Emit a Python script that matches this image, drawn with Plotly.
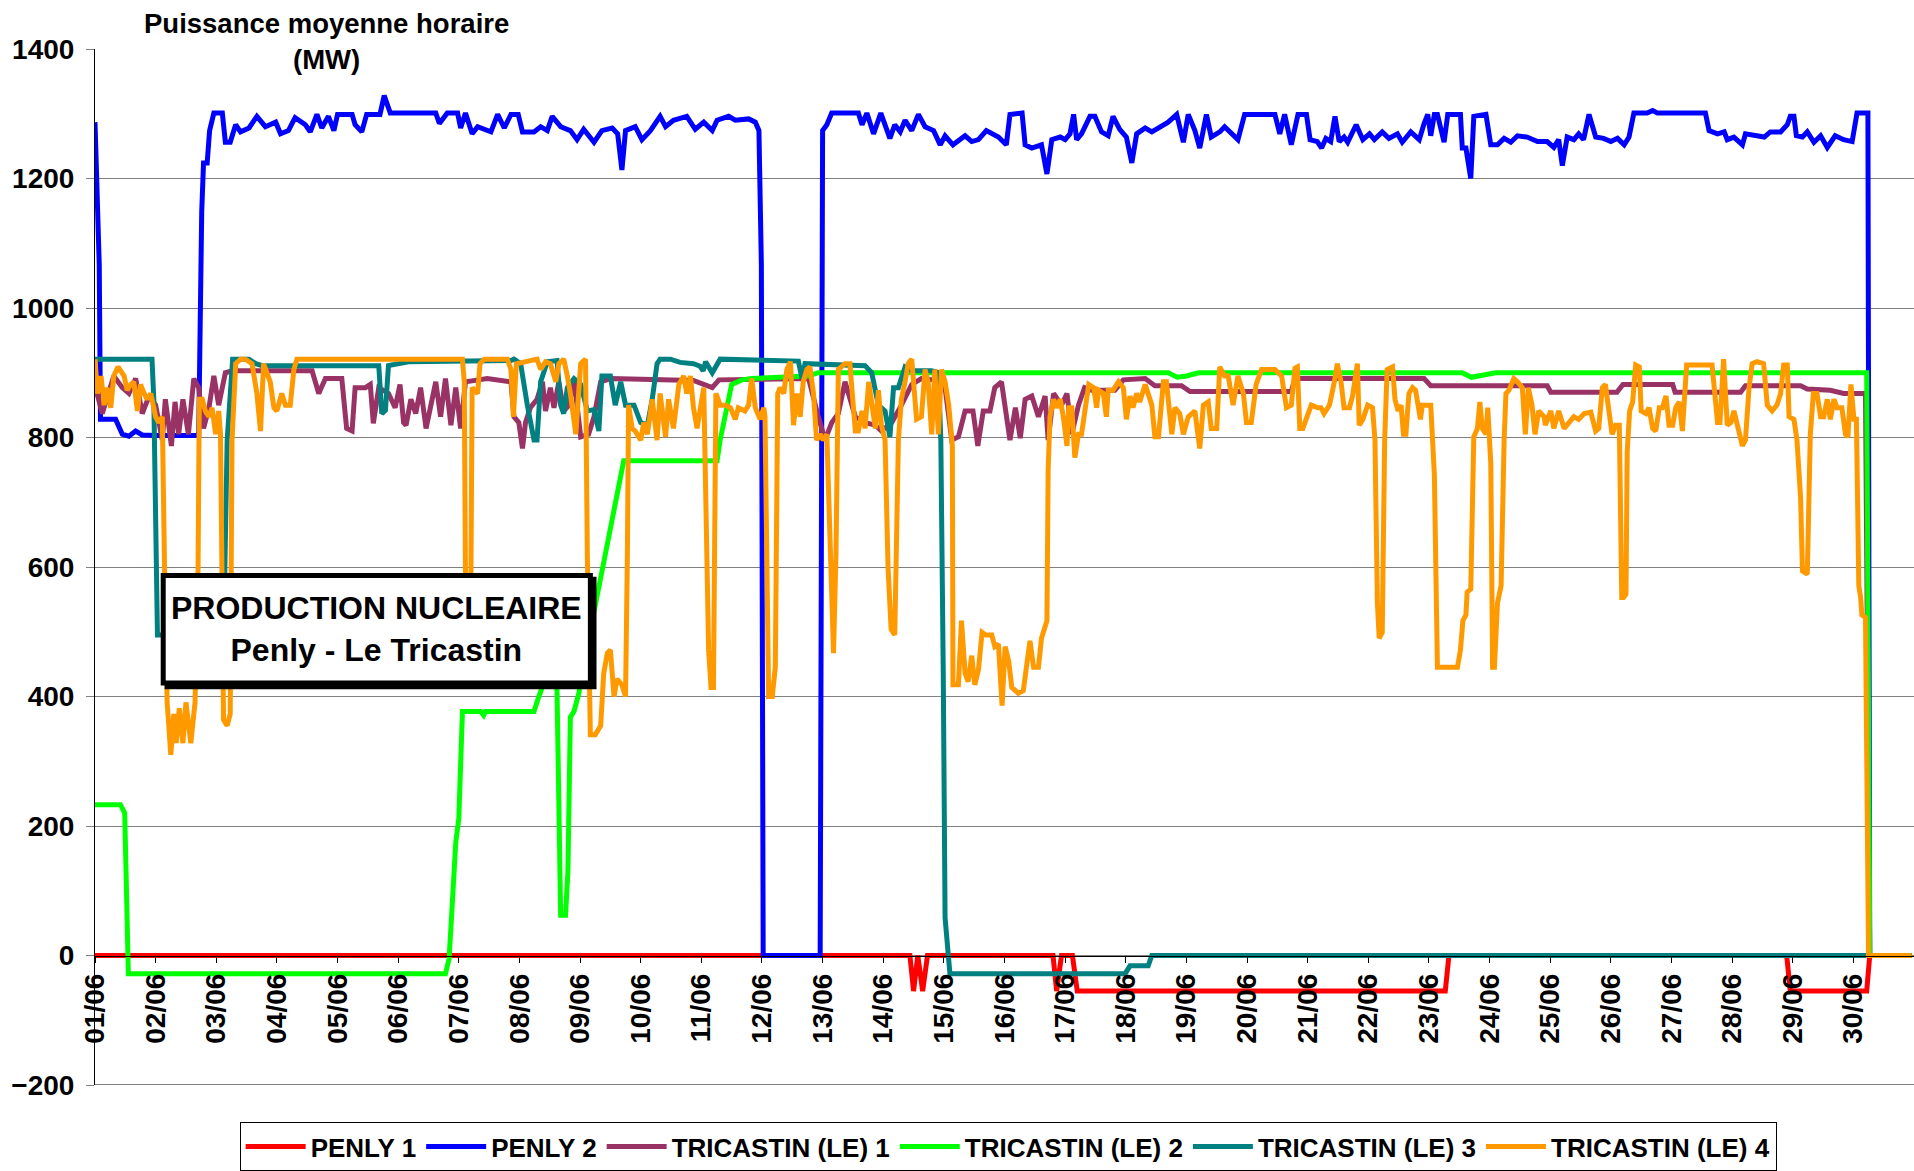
import plotly.graph_objects as go

# ---------------- data (day index from 01/06 00h, MW) ----------------
DAY_LABELS = ["01/06", "02/06", "03/06", "04/06", "05/06", "06/06", "07/06", "08/06", "09/06", "10/06",
              "11/06", "12/06", "13/06", "14/06", "15/06", "16/06", "17/06", "18/06", "19/06", "20/06",
              "21/06", "22/06", "23/06", "24/06", "25/06", "26/06", "27/06", "28/06", "29/06", "30/06"]
DAY_TICKS = list(range(30))

Y_TICKS = [-200, 0, 200, 400, 600, 800, 1000, 1200, 1400]

PENLY1 = [(0.00, 0), (13.44, 0), (13.50, -55), (13.57, 0), (13.65, -55), (13.73, 0), (15.80, 0), (15.86, -55),
          (15.94, 0), (16.12, 0), (16.20, -55), (22.27, -55), (22.33, 0), (27.90, 0), (27.96, -55),
          (29.22, -55), (29.27, 0), (29.96, 0)]

PENLY2 = [(0.00, 1287), (0.07, 1067), (0.09, 828), (0.34, 828), (0.45, 805), (0.56, 802), (0.67, 810), (0.78, 804),
          (1.00, 803), (1.71, 803), (1.76, 1148), (1.79, 1224), (1.85, 1224), (1.89, 1274), (1.96, 1301), (2.10, 1301),
          (2.15, 1256), (2.23, 1256), (2.32, 1283), (2.40, 1272), (2.54, 1278), (2.67, 1296), (2.81, 1280), (2.98, 1287),
          (3.06, 1269), (3.19, 1274), (3.30, 1294), (3.47, 1283), (3.55, 1272), (3.66, 1299), (3.74, 1278), (3.85, 1296),
          (3.94, 1274), (4.00, 1299), (4.24, 1299), (4.29, 1283), (4.40, 1272), (4.48, 1299), (4.70, 1299), (4.77, 1328),
          (4.87, 1301), (5.62, 1301), (5.68, 1285), (5.81, 1301), (5.98, 1301), (6.03, 1278), (6.11, 1301), (6.22, 1269),
          (6.31, 1280), (6.42, 1275), (6.53, 1272), (6.64, 1299), (6.75, 1278), (6.86, 1299), (6.98, 1299), (7.05, 1272),
          (7.24, 1272), (7.35, 1280), (7.46, 1274), (7.54, 1296), (7.68, 1280), (7.84, 1274), (7.95, 1260), (8.06, 1276),
          (8.23, 1256), (8.36, 1274), (8.53, 1278), (8.62, 1269), (8.69, 1213), (8.75, 1274), (8.91, 1280), (9.02, 1260),
          (9.16, 1274), (9.32, 1296), (9.41, 1280), (9.54, 1290), (9.76, 1296), (9.90, 1276), (10.04, 1287), (10.18, 1274),
          (10.26, 1290), (10.45, 1296), (10.56, 1290), (10.78, 1292), (10.89, 1287), (10.95, 1274), (10.99, 1067),
          (11.02, 0), (11.96, 0), (12.00, 1274), (12.07, 1283), (12.15, 1301), (12.59, 1301), (12.65, 1283), (12.73, 1301),
          (12.84, 1269), (12.96, 1301), (13.11, 1262), (13.19, 1283), (13.28, 1272), (13.36, 1290), (13.47, 1274),
          (13.58, 1299), (13.69, 1280), (13.83, 1274), (13.94, 1252), (14.02, 1266), (14.15, 1252), (14.26, 1260),
          (14.35, 1266), (14.46, 1257), (14.57, 1260), (14.70, 1274), (14.90, 1264), (15.03, 1252), (15.09, 1299),
          (15.29, 1301), (15.34, 1252), (15.45, 1247), (15.61, 1252), (15.70, 1207), (15.78, 1260), (15.92, 1264),
          (16.00, 1260), (16.08, 1269), (16.14, 1299), (16.19, 1260), (16.27, 1269), (16.41, 1296), (16.49, 1296),
          (16.60, 1272), (16.71, 1266), (16.79, 1296), (16.90, 1276), (17.01, 1264), (17.10, 1224), (17.18, 1269),
          (17.32, 1278), (17.43, 1272), (17.56, 1280), (17.70, 1287), (17.84, 1299), (17.95, 1256), (18.03, 1299),
          (18.14, 1274), (18.22, 1247), (18.33, 1299), (18.41, 1264), (18.55, 1272), (18.63, 1280), (18.72, 1272),
          (18.85, 1260), (18.96, 1299), (19.46, 1299), (19.54, 1269), (19.62, 1299), (19.73, 1252), (19.84, 1299),
          (19.98, 1299), (20.04, 1260), (20.16, 1257), (20.23, 1247), (20.30, 1262), (20.38, 1257), (20.45, 1296),
          (20.52, 1257), (20.60, 1264), (20.66, 1256), (20.80, 1283), (20.91, 1260), (21.02, 1269), (21.10, 1260),
          (21.23, 1272), (21.34, 1262), (21.48, 1269), (21.56, 1256), (21.70, 1272), (21.84, 1260), (21.92, 1285),
          (21.98, 1299), (22.03, 1266), (22.09, 1299), (22.14, 1299), (22.25, 1256), (22.31, 1299), (22.52, 1299),
          (22.55, 1247), (22.61, 1247), (22.69, 1200), (22.74, 1296), (22.94, 1299), (23.02, 1252), (23.13, 1252),
          (23.24, 1262), (23.35, 1256), (23.46, 1266), (23.62, 1264), (23.79, 1257), (23.95, 1257), (24.06, 1248),
          (24.14, 1260), (24.20, 1220), (24.28, 1264), (24.39, 1260), (24.47, 1269), (24.55, 1260), (24.64, 1299),
          (24.75, 1264), (24.88, 1262), (25.00, 1257), (25.11, 1262), (25.22, 1252), (25.30, 1264), (25.38, 1301),
          (25.60, 1301), (25.69, 1305), (25.77, 1301), (26.56, 1301), (26.62, 1274), (26.76, 1269), (26.87, 1272),
          (26.92, 1260), (27.03, 1264), (27.17, 1252), (27.22, 1269), (27.39, 1266), (27.53, 1264), (27.63, 1272),
          (27.80, 1272), (27.91, 1283), (27.96, 1296), (28.02, 1296), (28.06, 1266), (28.16, 1264), (28.24, 1272),
          (28.35, 1256), (28.46, 1266), (28.57, 1248), (28.70, 1266), (28.84, 1260), (28.98, 1257), (29.06, 1301),
          (29.24, 1301), (29.27, 0), (29.96, 0)]

TRICASTIN1 = [(0.00, 880), (0.12, 837), (0.31, 895), (0.45, 877), (0.56, 868), (0.67, 891), (0.78, 837), (0.89, 864),
              (1.00, 850), (1.11, 796), (1.16, 859), (1.26, 787), (1.32, 855), (1.38, 805), (1.45, 859), (1.54, 805),
              (1.63, 891), (1.71, 877), (1.79, 814), (1.88, 846), (1.96, 895), (2.04, 850), (2.15, 900), (2.26, 903),
              (3.58, 903), (3.69, 868), (3.80, 891), (4.07, 891), (4.15, 814), (4.24, 810), (4.29, 877), (4.46, 877),
              (4.54, 882), (4.59, 822), (4.68, 877), (4.84, 868), (4.95, 846), (5.03, 882), (5.09, 823), (5.13, 819),
              (5.21, 859), (5.29, 837), (5.37, 877), (5.46, 814), (5.54, 850), (5.62, 886), (5.70, 832), (5.78, 891),
              (5.87, 819), (5.95, 877), (6.03, 814), (6.11, 886), (6.47, 891), (6.86, 886), (6.91, 832), (6.99, 823),
              (7.05, 783), (7.10, 823), (7.18, 846), (7.29, 859), (7.38, 886), (7.43, 841), (7.51, 877), (7.57, 846),
              (7.65, 886), (7.73, 841), (7.82, 850), (7.90, 891), (8.01, 801), (8.14, 805), (8.23, 832), (8.34, 886),
              (8.50, 891), (9.87, 888), (10.04, 882), (10.18, 877), (10.29, 889), (11.77, 891), (11.93, 832),
              (12.04, 796), (12.15, 823), (12.26, 837), (12.37, 886), (12.54, 832), (12.70, 823), (12.87, 819),
              (12.97, 810), (13.14, 823), (13.30, 850), (13.47, 882), (13.63, 891), (13.91, 888), (14.02, 877),
              (14.13, 796), (14.24, 801), (14.35, 841), (14.48, 841), (14.56, 787), (14.65, 841), (14.76, 841),
              (14.84, 877), (14.95, 886), (15.09, 796), (15.18, 846), (15.26, 799), (15.34, 859), (15.45, 864),
              (15.56, 832), (15.67, 864), (15.72, 796), (15.81, 868), (15.94, 850), (16.03, 868), (16.11, 805),
              (16.22, 850), (16.32, 877), (16.44, 873), (16.82, 873), (16.96, 889), (17.32, 891), (17.48, 880),
              (17.92, 880), (18.06, 871), (19.73, 871), (19.79, 891), (21.92, 891), (22.03, 880), (23.95, 880),
              (24.01, 870), (25.10, 870), (25.20, 882), (26.02, 882), (26.06, 870), (27.14, 870), (27.22, 880),
              (28.13, 880), (28.24, 875), (28.62, 873), (28.84, 868), (29.20, 868), (29.27, 0), (29.96, 0)]

TRICASTIN2 = [(0.00, 233), (0.42, 233), (0.49, 220), (0.55, -28), (5.78, -28), (5.84, -5), (5.89, 76), (5.95, 175),
              (6.00, 211), (6.06, 377), (6.36, 377), (6.41, 371), (6.44, 377), (7.24, 377), (7.32, 400), (7.42, 425),
              (7.58, 430), (7.62, 409), (7.68, 62), (7.76, 62), (7.80, 130), (7.84, 368), (7.90, 377), (7.98, 405),
              (8.06, 450), (8.72, 764), (10.26, 764), (10.31, 796), (10.50, 882), (10.67, 889), (10.83, 891),
              (11.77, 895), (11.93, 900), (17.70, 900), (17.85, 893), (18.00, 895), (18.20, 900), (22.55, 900),
              (22.70, 893), (22.95, 897), (23.10, 900), (29.22, 900), (29.27, 0), (29.96, 0)]

TRICASTIN3 = [(0.00, 921), (0.94, 921), (0.97, 859), (1.00, 598), (1.03, 495), (1.10, 495), (2.08, 495), (2.14, 589),
              (2.18, 796), (2.27, 921), (2.54, 921), (2.65, 914), (2.76, 911), (4.68, 911), (4.73, 837), (4.79, 842),
              (4.84, 911), (5.17, 917), (6.86, 919), (6.91, 921), (7.02, 914), (7.13, 850), (7.24, 796), (7.29, 796),
              (7.35, 886), (7.46, 917), (7.62, 919), (7.68, 850), (7.73, 837), (7.79, 877), (7.90, 891), (8.01, 882),
              (8.12, 841), (8.23, 843), (8.31, 810), (8.36, 895), (8.50, 895), (8.58, 850), (8.67, 886), (8.75, 850),
              (8.89, 850), (9.00, 823), (9.11, 819), (9.19, 859), (9.27, 914), (9.32, 921), (9.49, 921), (9.65, 916),
              (9.87, 914), (9.98, 910), (10.03, 903), (10.07, 917), (10.18, 900), (10.31, 921), (11.60, 918),
              (11.66, 891), (11.71, 914), (12.70, 911), (12.81, 900), (12.92, 850), (13.03, 841), (13.11, 801),
              (13.17, 877), (13.25, 877), (13.30, 895), (13.36, 909), (13.47, 903), (13.80, 903), (13.91, 900),
              (13.95, 796), (13.99, 436), (14.02, 58), (14.10, -28), (16.99, -28), (17.07, -16), (17.37, -16),
              (17.43, 0), (29.96, 0)]

TRICASTIN4 = [(0.00, 921), (0.04, 868), (0.10, 895), (0.15, 850), (0.20, 877), (0.26, 846), (0.31, 895), (0.38, 909),
              (0.48, 895), (0.53, 873), (0.59, 882), (0.64, 886), (0.70, 841), (0.75, 882), (0.81, 868), (0.86, 859),
              (0.92, 868), (1.00, 832), (1.05, 823), (1.11, 832), (1.15, 580), (1.19, 391), (1.25, 310), (1.30, 373),
              (1.34, 328), (1.39, 382), (1.45, 328), (1.50, 391), (1.58, 328), (1.65, 391), (1.70, 600), (1.72, 859),
              (1.77, 859), (1.82, 841), (1.88, 832), (1.93, 846), (1.99, 805), (2.04, 841), (2.07, 805), (2.10, 616),
              (2.12, 364), (2.18, 355), (2.23, 373), (2.26, 796), (2.32, 914), (2.40, 921), (2.48, 921), (2.59, 914),
              (2.67, 868), (2.73, 810), (2.78, 914), (2.89, 886), (2.95, 846), (3.00, 841), (3.08, 868), (3.14, 850),
              (3.22, 850), (3.28, 905), (3.33, 921), (6.06, 921), (6.09, 886), (6.11, 589), (6.15, 560), (6.20, 589),
              (6.22, 877), (6.31, 868), (6.35, 914), (6.42, 921), (6.80, 921), (6.86, 905), (6.90, 832), (6.95, 914),
              (7.29, 921), (7.35, 905), (7.43, 917), (7.51, 914), (7.60, 886), (7.65, 914), (7.73, 921), (7.79, 895),
              (7.84, 868), (7.93, 805), (8.01, 914), (8.09, 921), (8.12, 616), (8.17, 341), (8.25, 341), (8.34, 355),
              (8.39, 436), (8.45, 467), (8.50, 472), (8.56, 400), (8.61, 427), (8.69, 418), (8.75, 400), (8.78, 616),
              (8.80, 850), (8.86, 814), (8.91, 810), (9.00, 796), (9.05, 823), (9.11, 805), (9.19, 859), (9.27, 796),
              (9.32, 868), (9.41, 801), (9.46, 859), (9.54, 814), (9.63, 882), (9.71, 895), (9.76, 868), (9.82, 895),
              (9.87, 846), (9.93, 814), (9.98, 846), (10.04, 877), (10.12, 472), (10.16, 414), (10.20, 414),
              (10.24, 868), (10.31, 850), (10.40, 850), (10.48, 846), (10.56, 828), (10.61, 846), (10.72, 841),
              (10.78, 850), (10.83, 891), (10.89, 846), (10.97, 828), (11.03, 846), (11.05, 832), (11.11, 400),
              (11.17, 400), (11.22, 445), (11.26, 868), (11.30, 877), (11.36, 868), (11.41, 905), (11.47, 917),
              (11.52, 819), (11.58, 868), (11.63, 832), (11.68, 886), (11.74, 905), (11.79, 909), (11.85, 868),
              (11.90, 796), (11.96, 805), (12.01, 796), (12.07, 805), (12.12, 616), (12.18, 467), (12.22, 616),
              (12.26, 905), (12.37, 914), (12.45, 914), (12.54, 810), (12.59, 810), (12.65, 841), (12.70, 814),
              (12.76, 886), (12.81, 850), (12.87, 814), (12.92, 873), (12.97, 819), (13.03, 796), (13.08, 598),
              (13.13, 504), (13.19, 495), (13.25, 796), (13.30, 859), (13.36, 886), (13.41, 914), (13.47, 921),
              (13.55, 828), (13.63, 832), (13.69, 905), (13.74, 886), (13.80, 805), (13.85, 905), (13.91, 805),
              (13.96, 905), (14.02, 886), (14.08, 850), (14.14, 787), (14.15, 418), (14.24, 418), (14.29, 517),
              (14.35, 436), (14.40, 423), (14.46, 463), (14.51, 418), (14.57, 441), (14.63, 499), (14.69, 495),
              (14.79, 495), (14.84, 477), (14.90, 481), (14.96, 386), (15.01, 477), (15.07, 454), (15.12, 414),
              (15.23, 405), (15.31, 409), (15.37, 454), (15.42, 486), (15.48, 445), (15.56, 445), (15.61, 490),
              (15.70, 517), (15.72, 751), (15.75, 832), (15.81, 859), (15.86, 846), (15.92, 859), (15.97, 832),
              (16.03, 787), (16.06, 846), (16.11, 846), (16.16, 769), (16.22, 805), (16.27, 805), (16.34, 850),
              (16.39, 882), (16.47, 877), (16.52, 846), (16.55, 873), (16.63, 868), (16.68, 832), (16.71, 873),
              (16.79, 873), (16.88, 886), (16.96, 877), (17.01, 828), (17.07, 864), (17.12, 846), (17.18, 868),
              (17.23, 855), (17.32, 882), (17.43, 850), (17.48, 801), (17.54, 801), (17.62, 886), (17.67, 886),
              (17.76, 805), (17.81, 846), (17.89, 837), (17.95, 805), (18.03, 832), (18.14, 841), (18.22, 783),
              (18.28, 850), (18.36, 855), (18.41, 814), (18.50, 814), (18.55, 909), (18.63, 895), (18.69, 895),
              (18.77, 850), (18.85, 895), (18.94, 868), (18.99, 823), (19.07, 823), (19.15, 882), (19.24, 905),
              (19.46, 905), (19.57, 895), (19.65, 846), (19.73, 850), (19.79, 907), (19.83, 909), (19.87, 814),
              (19.92, 814), (19.98, 832), (20.06, 850), (20.17, 846), (20.22, 846), (20.27, 837), (20.36, 850),
              (20.44, 886), (20.49, 914), (20.55, 886), (20.60, 846), (20.69, 846), (20.74, 864), (20.82, 914),
              (20.85, 819), (20.91, 828), (20.99, 850), (21.07, 846), (21.11, 796), (21.15, 544), (21.18, 490),
              (21.23, 499), (21.27, 796), (21.31, 905), (21.40, 909), (21.44, 859), (21.49, 841), (21.54, 850),
              (21.58, 805), (21.62, 805), (21.67, 868), (21.73, 877), (21.78, 873), (21.86, 828), (21.89, 850),
              (22.03, 850), (22.09, 742), (22.14, 445), (22.47, 445), (22.52, 472), (22.56, 517), (22.61, 526),
              (22.63, 561), (22.69, 566), (22.72, 715), (22.74, 801), (22.80, 814), (22.84, 855), (22.88, 814),
              (22.94, 805), (22.97, 846), (23.02, 760), (23.05, 445), (23.08, 445), (23.13, 544), (23.19, 571),
              (23.24, 796), (23.27, 868), (23.32, 873), (23.40, 891), (23.46, 886), (23.54, 877), (23.59, 805),
              (23.64, 877), (23.70, 850), (23.75, 805), (23.81, 841), (23.90, 832), (23.92, 819), (24.01, 841),
              (24.06, 814), (24.14, 841), (24.23, 814), (24.31, 823), (24.39, 832), (24.47, 828), (24.56, 837),
              (24.67, 839), (24.75, 810), (24.80, 814), (24.86, 877), (24.91, 882), (24.97, 841), (25.02, 805),
              (25.08, 819), (25.14, 819), (25.18, 553), (25.21, 553), (25.25, 558), (25.27, 778), (25.31, 841),
              (25.36, 855), (25.41, 912), (25.47, 909), (25.50, 841), (25.58, 837), (25.63, 846), (25.69, 814),
              (25.74, 810), (25.80, 846), (25.85, 846), (25.91, 864), (25.96, 819), (26.02, 819), (26.07, 846),
              (26.13, 855), (26.18, 810), (26.25, 912), (26.67, 912), (26.76, 823), (26.80, 823), (26.86, 921),
              (26.92, 819), (26.98, 823), (27.03, 841), (27.09, 814), (27.17, 787), (27.22, 796), (27.28, 877),
              (27.33, 914), (27.41, 917), (27.52, 914), (27.58, 850), (27.66, 841), (27.74, 850), (27.80, 868),
              (27.85, 912), (27.91, 912), (27.94, 832), (28.02, 828), (28.07, 796), (28.13, 706), (28.16, 594),
              (28.24, 589), (28.29, 805), (28.34, 868), (28.40, 868), (28.46, 832), (28.51, 832), (28.57, 859),
              (28.62, 828), (28.68, 859), (28.73, 846), (28.81, 846), (28.87, 805), (28.91, 801), (28.96, 882),
              (29.01, 828), (29.05, 828), (29.09, 571), (29.12, 553), (29.14, 526), (29.20, 522), (29.25, 0),
              (29.96, 0)]

SERIES = [
    ("PENLY 1", PENLY1, "#FF0000"),
    ("PENLY 2", PENLY2, "#0000FF"),
    ("TRICASTIN (LE) 1", TRICASTIN1, "#993366"),
    ("TRICASTIN (LE) 2", TRICASTIN2, "#00FF00"),
    ("TRICASTIN (LE) 3", TRICASTIN3, "#008080"),
    ("TRICASTIN (LE) 4", TRICASTIN4, "#FF9900"),
]

FONT = "Arial, 'Liberation Sans', sans-serif"

fig = go.Figure()
for name, pts, color in SERIES:
    xs = [p[0] for p in pts]
    ys = [p[1] for p in pts]
    fig.add_trace(go.Scatter(x=xs, y=ys, mode="lines", name=name,
                             line=dict(color=color, width=5)))

fig.update_layout(
    width=1914, height=1171,
    margin=dict(l=95, r=0, t=49, b=82, pad=0),
    plot_bgcolor="white", paper_bgcolor="white",
    showlegend=True,
    legend=dict(orientation="h", x=0.502, xanchor="center", y=-0.036, yanchor="top",
                font=dict(family=FONT, size=26, color="black", weight="bold"),
                bordercolor="black", borderwidth=1, bgcolor="white",
                itemwidth=60, tracegroupgap=0),
    xaxis=dict(range=[0, 30], tickmode="array", tickvals=DAY_TICKS, ticktext=DAY_LABELS,
               tickangle=-90, anchor="free", position=200 / 1600,
               showline=True, linecolor="black", linewidth=1,
               ticks="outside", ticklen=6, tickcolor="black",
               showgrid=False, zeroline=False,
               tickfont=dict(family=FONT, size=28, color="black", weight="bold")),
    yaxis=dict(range=[-200, 1400], tickmode="array", tickvals=Y_TICKS,
               showline=True, linecolor="black", linewidth=1,
               ticks="outside", ticklen=8, tickcolor="#808080",
               showgrid=True, gridcolor="#808080", gridwidth=1, zeroline=False,
               ticklabelstandoff=6,
               tickfont=dict(family=FONT, size=28, color="black", weight="bold")),
)

# bottom border of plot area
fig.add_shape(type="line", xref="paper", yref="y", x0=0, x1=1, y0=-200, y1=-200,
              line=dict(color="black", width=1))

# title box
fig.add_annotation(text="Puissance moyenne horaire<br>(MW)", xref="paper", yref="paper",
                   x=0.127, y=1.007, xanchor="center", yanchor="middle", showarrow=False,
                   bgcolor="white", borderpad=4,
                   font=dict(family=FONT, size=27.5, color="black", weight="bold"))

# framed label box with shadow
fig.add_shape(type="rect", xref="x", yref="y", x0=1.19, x1=8.23, y0=415, y1=581,
              fillcolor="black", line=dict(color="black", width=5), layer="above")
fig.add_shape(type="rect", xref="x", yref="y", x0=1.125, x1=8.17, y0=421, y1=587,
              fillcolor="white", line=dict(color="black", width=5), layer="above")
fig.add_annotation(text="PRODUCTION NUCLEAIRE<br>Penly - Le Tricastin", xref="x", yref="y",
                   x=4.64, y=504, xanchor="center", yanchor="middle", showarrow=False,
                   font=dict(family=FONT, size=32, color="black", weight="bold"))

fig.write_html("out.html", config={"displayModeBar": False},
               post_script="document.body.style.margin='0';document.body.style.overflow='hidden';")
